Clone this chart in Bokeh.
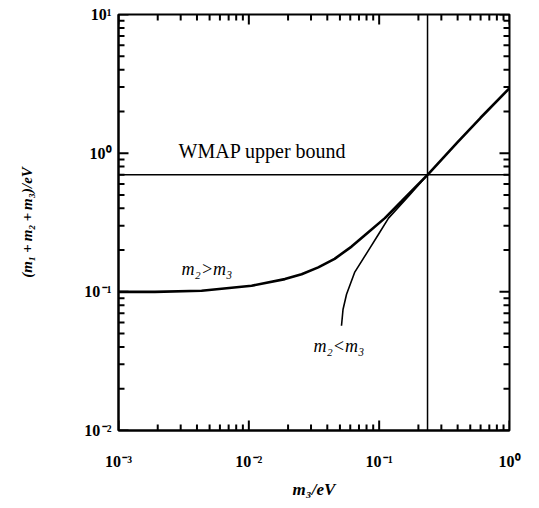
from bokeh.plotting import figure
from bokeh.models import Label, Span, FixedTicker
from bokeh.embed import file_html
from bokeh.resources import INLINE

# ---- data ----
x_ticks = [1e-3, 1e-2, 1e-1, 1e0]
x_tick_labels = ["10\u200a⁻³", "10\u200a⁻²", "10\u200a⁻¹", "10⁰"]
y_ticks = [1e-2, 1e-1, 1e0, 1e1]
y_tick_labels = ["10\u200a⁻²", "10\u200a⁻¹", "10⁰", "10¹"]

# m2 > m3 branch
m3_upper = [0.001, 0.0019, 0.00434, 0.0105, 0.0189, 0.0254, 0.0341, 0.0455,
            0.0614, 0.083, 0.1106, 0.1486, 0.188, 0.239, 0.4, 0.6, 1.0]
sum_upper = [0.1, 0.1, 0.1017, 0.1106, 0.1235, 0.134, 0.150, 0.173,
             0.212, 0.27, 0.34, 0.45, 0.565, 0.71, 1.2, 1.8, 2.94]

# m2 < m3 branch
m3_lower = [0.0514, 0.0528, 0.0562, 0.0648, 0.083, 0.0989, 0.118, 0.168, 0.239]
sum_lower = [0.0569, 0.0746, 0.096, 0.138, 0.2, 0.26, 0.34, 0.49, 0.71]

wmap_bound = 0.70
m3_at_bound = 0.235

x_lo, x_hi = 1e-3, 1.0
y_lo, y_hi = 1e-2, 10.0

FONT = "Liberation Serif"
FW, FH = 391, 416

p = figure(x_axis_type="log", y_axis_type="log",
           x_range=(x_lo, x_hi), y_range=(y_lo, y_hi),
           frame_width=FW, frame_height=FH,
           min_border_left=118, min_border_right=20,
           min_border_top=14, min_border_bottom=60,
           output_backend="svg", toolbar_location=None)
p.grid.visible = False
p.outline_line_color = "black"
p.outline_line_width = 2
p.background_fill_color = "white"
p.border_fill_color = "white"

xa = p.xaxis[0]
ya = p.yaxis[0]
for ax, ticks, labels in ((xa, x_ticks, x_tick_labels), (ya, y_ticks, y_tick_labels)):
    ax.ticker = FixedTicker(ticks=ticks, minor_ticks=[])
    ax.axis_line_color = "black"
    ax.axis_line_width = 2
    ax.major_tick_in = 0
    ax.major_tick_out = 0
    ax.minor_tick_in = 0
    ax.minor_tick_out = 0
    ax.major_label_overrides = {t: l for t, l in zip(ticks, labels)}
    ax.major_label_text_font = FONT
    ax.major_label_text_font_size = "16px"
    ax.major_label_text_font_style = "bold"
    ax.major_label_text_color = "black"
    ax.axis_label_text_font = FONT
    ax.axis_label_text_font_style = "bold italic"
    ax.axis_label_text_color = "black"
xa.major_label_standoff = 22
ya.major_label_standoff = 7

xa.axis_label = "m₃/eV"
ya.axis_label = "(m₁\u2009+\u2009m₂\u2009+\u2009m₃)/eV"
xa.axis_label_text_font_size = "17px"
ya.axis_label_text_font_size = "15px"
xa.axis_label_standoff = 7
ya.axis_label_standoff = 46

# inward tick marks on all four sides of the frame
px_per_dec_x = FW / 3.0
px_per_dec_y = FH / 3.0
minor_x = [d * k for d in x_ticks[:-1] for k in range(2, 10)]
minor_y = [d * k for d in y_ticks[:-1] for k in range(2, 10)]

tx0, ty0, tx1, ty1 = [], [], [], []
for ticks, ln in ((x_ticks, 10), (minor_x, 6)):
    f = 10 ** (ln / px_per_dec_y)
    for t in ticks:
        tx0 += [t, t]; tx1 += [t, t]
        ty0 += [y_lo, y_hi]; ty1 += [y_lo * f, y_hi / f]
for ticks, ln in ((y_ticks, 10), (minor_y, 6)):
    f = 10 ** (ln / px_per_dec_x)
    for t in ticks:
        ty0 += [t, t]; ty1 += [t, t]
        tx0 += [x_lo, x_hi]; tx1 += [x_lo * f, x_hi / f]
p.segment(x0=tx0, y0=ty0, x1=tx1, y1=ty1, line_color="black", line_width=2)

p.add_layout(Span(location=wmap_bound, dimension="width", line_color="black", line_width=1.5))
p.add_layout(Span(location=m3_at_bound, dimension="height", line_color="black", line_width=1.5))

p.line(m3_upper, sum_upper, line_color="black", line_width=2.6)
p.line(m3_lower, sum_lower, line_color="black", line_width=1.6)

p.add_layout(Label(x=0.00289, y=1.03, text="WMAP upper bound", text_font=FONT,
                   text_font_size="20px", text_baseline="middle", text_color="black"))
p.add_layout(Label(x=0.00305, y=0.145, text="m₂>m₃", text_font=FONT,
                   text_font_size="18px", text_font_style="italic",
                   text_baseline="middle", text_color="black"))
p.add_layout(Label(x=0.0314, y=0.0407, text="m₂<m₃", text_font=FONT,
                   text_font_size="18px", text_font_style="italic",
                   text_baseline="middle", text_color="black"))

open("out.html", "w").write(file_html(p, INLINE))
